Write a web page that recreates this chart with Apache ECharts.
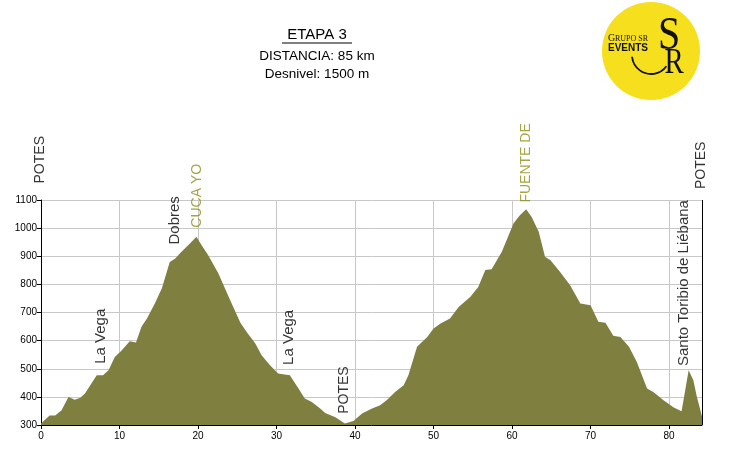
<!DOCTYPE html>
<html>
<head>
<meta charset="utf-8">
<script src="https://cdn.jsdelivr.net/npm/echarts@6/dist/echarts.min.js"></script>
<style>
html,body{margin:0;padding:0;background:#fff;}
#chart{width:730px;height:454px;}
</style>
</head>
<body>
<div id="chart"></div>
<script>
// Elevation profile: distance (km) and altitude (m)
const profileKm = [0,1.1,1.8,2.6,3.5,4.3,5.0,5.6,7.1,7.9,8.6,9.4,10.3,11.3,12.1,12.8,13.5,14.5,15.4,16.4,17.1,17.9,19.0,19.8,20.3,21.3,22.6,24.1,25.4,26.2,27.3,28.1,29.2,30.2,31.7,32.8,33.6,34.5,35.6,36.2,37.5,38.7,39.8,40.9,42.1,43.2,44.1,45.1,46.2,46.8,47.9,49.2,50.0,50.9,52.1,53.2,54.7,55.7,56.6,57.4,58.7,60.2,61.0,61.8,62.5,63.4,64.2,64.9,66.1,67.4,68.7,70.0,71.0,71.9,72.9,73.8,74.9,75.9,77.2,78.0,79.3,80.6,81.6,82.5,83.1,83.5,84.2];
const profileElev = [305,334,334,352,400,390,397,412,477,477,495,542,566,598,593,649,679,732,786,880,892,916,946,969,946,904,839,744,664,631,590,548,512,483,477,430,394,382,358,343,328,305,314,341,358,370,390,417,441,477,578,613,643,661,679,720,756,791,851,854,916,1017,1046,1067,1040,987,898,886,845,797,732,726,667,664,617,613,578,524,430,417,388,362,349,495,459,406,330];

// Waypoint annotations
const wpNames = ['POTES','La Vega','Dobres','CUCA YO','La Vega','POTES','FUENTE DE','Santo Toribio de Liébana','POTES'];
const wpKm = [0, 7.7, 17.1, 19.9, 31.6, 38.7, 61.9, 82.0, 84.2];
const wpLabelElev = [1157, 516, 940, 1000, 512, 338, 1089, 508, 1137];
const wpType = ['town','town','town','summit','town','town','summit','town','town'];

// Axis settings
const xMax = 84.2;
const yTicks = [300,400,500,600,700,800,900,1000,1100];

// Header texts
const titleText = 'ETAPA 3';
const distText = 'DISTANCIA: 85 km';
const climbText = 'Desnivel: 1500 m';

const chart = echarts.init(document.getElementById('chart'), null, {renderer:'canvas'});

const profileData = profileKm.map((k,i)=>[k, profileElev[i]]);
const wpData = wpKm.map((k,i)=>({
  value:[k, wpLabelElev[i]],
  name: wpNames[i],
  label:{
    color: wpType[i]==='summit' ? '#8f8f14' : '#000000',
    fontSize: (wpNames[i] === wpNames[i].toUpperCase()) ? 14 : 15
  }
}));

const option = {
  backgroundColor:'#ffffff',
  animation:false,
  grid:{left:41, right:28, top:200, bottom:29, containLabel:false},
  xAxis:{
    type:'value', min:0, max:xMax, interval:10,
    axisLine:{show:true, lineStyle:{color:'#000', width:1}},
    axisTick:{show:true, length:4, lineStyle:{color:'#000'}},
    axisLabel:{
      color:'#000', fontSize:10, fontFamily:'Liberation Sans, Arial', margin:6,
      formatter:(v)=> (Math.abs(v%10)<1e-9 ? String(v) : ''),
      showMaxLabel:false
    },
    splitLine:{show:true, lineStyle:{color:'#c8c8c8', width:1}}
  },
  yAxis:{
    type:'value', min:yTicks[0], max:yTicks[yTicks.length-1], interval:100,
    axisLine:{show:true, lineStyle:{color:'#000', width:1}},
    axisTick:{show:true, length:4, lineStyle:{color:'#000'}},
    axisLabel:{color:'#000', fontSize:10, fontFamily:'Liberation Sans, Arial', margin:4, formatter:(v)=>String(v)},
    splitLine:{show:true, lineStyle:{color:'#c8c8c8', width:1}}
  },
  graphic:[
    {type:'text', x:317, y:35, style:{text:titleText, fill:'#000', font:'15px "Liberation Sans", Arial', textAlign:'center', textVerticalAlign:'middle'}},
    {type:'line', shape:{x1:282, y1:43, x2:352, y2:43}, style:{stroke:'#000', lineWidth:1}},
    {type:'text', x:317, y:56, style:{text:distText, fill:'#000', font:'13.5px "Liberation Sans", Arial', textAlign:'center', textVerticalAlign:'middle'}},
    {type:'text', x:317, y:74, style:{text:climbText, fill:'#000', font:'13.5px "Liberation Sans", Arial', textAlign:'center', textVerticalAlign:'middle'}},
    // logo
    {type:'circle', shape:{cx:651, cy:51, r:49}, style:{fill:'#f6df1c'}},
    {type:'text', x:608, y:38, style:{text:'G', fill:'#111', font:'10px "Liberation Serif", serif', textVerticalAlign:'middle'}},
    {type:'text', x:615, y:38.5, style:{text:'RUPO SR', fill:'#111', font:'8px "Liberation Serif", serif', textVerticalAlign:'middle'}},
    {type:'text', x:608, y:48, style:{text:'EVENTS', fill:'#111', font:'bold 10px "Liberation Sans", Arial', textVerticalAlign:'middle'}},
    {type:'text', x:669, y:37, scaleY:1.15, style:{text:'S', fill:'#111', font:'40px "Liberation Serif", serif', textAlign:'center', textVerticalAlign:'middle'}},
    {type:'text', x:674, y:64, scaleX:0.8, style:{text:'R', fill:'#111', font:'36px "Liberation Serif", serif', textAlign:'center', textVerticalAlign:'middle'}},
    {type:'arc', shape:{cx:651, cy:55, r:19, startAngle:Math.PI*0.2, endAngle:Math.PI*0.97, clockwise:true}, style:{stroke:'#111', lineWidth:1.8, fill:null}}
  ],
  series:[
    {
      type:'line',
      data:profileData,
      showSymbol:false,
      symbol:'none',
      smooth:false,
      lineStyle:{width:0, color:'#7f7f3f'},
      areaStyle:{color:'#7f7f3f', opacity:1, origin:'start'},
      markLine:{
        silent:true, symbol:['none','none'],
        label:{show:false},
        lineStyle:{color:'#000', type:'solid', width:1},
        data:[{xAxis:xMax}]
      },
      z:2
    },
    {
      type:'scatter',
      data:wpData,
      symbolSize:1,
      clip:false,
      itemStyle:{color:'rgba(0,0,0,0)'},
      label:{
        show:true,
        formatter:(p)=>p.name,
        rotate:90,
        position:[0,0],
        align:'left',
        verticalAlign:'middle',
        fontFamily:'Liberation Sans, Arial'
      },
      z:5
    }
  ]
};
chart.setOption(option);
</script>
</body>
</html>
